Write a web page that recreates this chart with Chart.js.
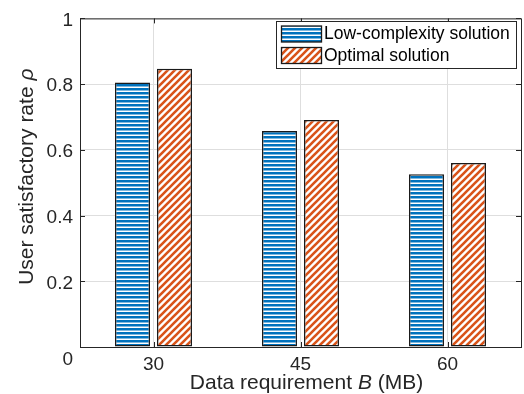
<!DOCTYPE html>
<html>
<head>
<meta charset="utf-8">
<script src="https://cdn.jsdelivr.net/npm/chart.js@4"></script>
<style>
  html, body { margin: 0; padding: 0; background: #fff; }
  #wrap { width: 524px; height: 394px; }
</style>
</head>
<body>
<div id="wrap"><canvas id="chart" width="524" height="394"></canvas></div>
<script>
// data requirement B (MB)
const categories = ['30', '45', '60'];
// user satisfactory rate for each scheme
const lowComplexity = [0.805, 0.657, 0.526];
const optimal = [0.847, 0.691, 0.560];
const seriesNames = ['Low-complexity solution', 'Optimal solution'];
const yTickValues = [0, 0.2, 0.4, 0.6, 0.8, 1];

const FONT = "'Liberation Sans', Arial, Helvetica, sans-serif";
const AXIS_COLOR = '#262626';
const BLUE = '#0072BD';
const ORANGE = '#D95319';

// hatch fills for the bars
function makeHatch(kind) {
  const c = document.createElement('canvas');
  const g = c.getContext('2d');
  if (kind === 'horizontal') {
    c.width = 4; c.height = 4;
    g.fillStyle = '#fff';
    g.fillRect(0, 0, 4, 4);
    g.fillStyle = BLUE;
    g.fillRect(0, 0, 4, 2.5);
  } else {
    const s = 7;
    c.width = s; c.height = s;
    g.fillStyle = '#fff';
    g.fillRect(0, 0, s, s);
    g.strokeStyle = ORANGE;
    g.lineWidth = 2.6;
    g.beginPath();
    [-s, 0, s].forEach(o => {
      g.moveTo(o - 1, s + 1);
      g.lineTo(o + s + 1, -1);
    });
    g.stroke();
  }
  return g.createPattern(c, 'repeat');
}

const blueHatch = makeHatch('horizontal');
const orangeHatch = makeHatch('diagonal');

// box around the axes with inward tick marks, plus the lone "0" label
const axisBox = {
  id: 'axisBox',
  afterDatasetsDraw(chart) {
    const { ctx, chartArea: a, scales: { x, y } } = chart;
    const tl = 5;
    ctx.save();
    ctx.strokeStyle = AXIS_COLOR;
    ctx.lineWidth = 1;
    ctx.beginPath();
    y.ticks.forEach(t => {
      const py = Math.round(y.getPixelForValue(t.value)) + 0.5;
      ctx.moveTo(a.left, py); ctx.lineTo(a.left + tl, py);
      ctx.moveTo(a.right, py); ctx.lineTo(a.right - tl, py);
    });
    x.ticks.forEach((t, i) => {
      const px = Math.round(x.getPixelForTick(i)) + 0.5;
      ctx.moveTo(px, a.bottom); ctx.lineTo(px, a.bottom - tl);
      ctx.moveTo(px, a.top); ctx.lineTo(px, a.top + tl);
    });
    ctx.stroke();
    ctx.strokeRect(a.left + 0.5, a.top + 0.5, a.right - a.left, a.bottom - a.top);

    ctx.fillStyle = AXIS_COLOR;
    ctx.font = '19px ' + FONT;
    ctx.textAlign = 'right';
    ctx.textBaseline = 'middle';
    ctx.fillText('0', a.left - 7, y.getPixelForValue(0) + 13);
    ctx.restore();
  }
};

// axis titles with italic symbols
function drawMixed(ctx, parts, cx, cy) {
  const widths = parts.map(p => { ctx.font = p.font; return ctx.measureText(p.text).width; });
  const total = widths.reduce((s, w) => s + w, 0);
  let px = cx - total / 2;
  parts.forEach((p, i) => {
    ctx.font = p.font;
    ctx.fillText(p.text, px, cy);
    px += widths[i];
  });
}

const axisTitles = {
  id: 'axisTitles',
  afterDraw(chart) {
    const { ctx, chartArea: a } = chart;
    const reg = '21px ' + FONT;
    const ita = 'italic 21px ' + FONT;
    ctx.save();
    ctx.fillStyle = AXIS_COLOR;
    ctx.textAlign = 'left';
    ctx.textBaseline = 'alphabetic';
    drawMixed(ctx, [
      { text: 'Data requirement ', font: reg },
      { text: 'B', font: ita },
      { text: ' (MB)', font: reg }
    ], (a.left + a.right) / 2 + 6, 389);

    ctx.translate(33, (a.top + a.bottom) / 2 - 6);
    ctx.rotate(-Math.PI / 2);
    drawMixed(ctx, [
      { text: 'User satisfactory rate ', font: reg },
      { text: '\u03C1', font: ita }
    ], 0, 0);
    ctx.restore();
  }
};

// boxed legend in the upper right of the plot
const boxLegend = {
  id: 'boxLegend',
  afterDraw(chart) {
    const { ctx } = chart;
    const left = 276.5, top = 21.5, w = 240, h = 47;
    ctx.save();
    ctx.fillStyle = '#fff';
    ctx.fillRect(left, top, w, h);
    ctx.strokeStyle = AXIS_COLOR;
    ctx.lineWidth = 1;
    ctx.strokeRect(left, top, w, h);
    ctx.font = '17.5px ' + FONT;
    ctx.textBaseline = 'middle';
    ctx.textAlign = 'left';
    chart.data.datasets.forEach((ds, i) => {
      const py = 26 + i * 21.5;
      ctx.fillStyle = ds.backgroundColor;
      ctx.fillRect(281.5, py, 40, 16);
      ctx.strokeStyle = '#1a1a1a';
      ctx.lineWidth = 1.3;
      ctx.strokeRect(281.5, py, 40, 16);
      ctx.fillStyle = '#000';
      ctx.fillText(ds.label, 324, py + 8.5);
    });
    ctx.restore();
  }
};

const barStyle = {
  borderColor: '#1a1a1a',
  borderWidth: 1.5,
  borderSkipped: false,
  categoryPercentage: 0.5714,
  barPercentage: 0.8333
};

new Chart(document.getElementById('chart'), {
  type: 'bar',
  data: {
    labels: categories,
    datasets: [
      Object.assign({ label: seriesNames[0], data: lowComplexity, backgroundColor: blueHatch }, barStyle),
      Object.assign({ label: seriesNames[1], data: optimal, backgroundColor: orangeHatch }, barStyle)
    ]
  },
  options: {
    responsive: false,
    animation: false,
    layout: { padding: { top: 11, right: 3, left: 0, bottom: 0 } },
    plugins: {
      legend: { display: false },
      tooltip: { enabled: false }
    },
    scales: {
      x: {
        offset: true,
        grid: { offset: false, color: '#dedede', drawTicks: false },
        border: { display: false },
        ticks: { color: AXIS_COLOR, font: { family: FONT, size: 19 }, padding: 6 },
        afterFit: (s) => { s.height = 47; }
      },
      y: {
        min: 0,
        max: 1,
        afterBuildTicks: (s) => { s.ticks = yTickValues.map(v => ({ value: v })); },
        grid: { color: '#dedede', drawTicks: false },
        border: { display: false },
        ticks: {
          color: AXIS_COLOR,
          font: { family: FONT, size: 19 },
          padding: 7,
          labelOffset: 2,
          callback: (v) => v === 0 ? '' : (v === 1 ? '1' : v.toFixed(1))
        },
        afterFit: (s) => { s.width = 80; }
      }
    }
  },
  plugins: [axisBox, axisTitles, boxLegend]
});
</script>
</body>
</html>
